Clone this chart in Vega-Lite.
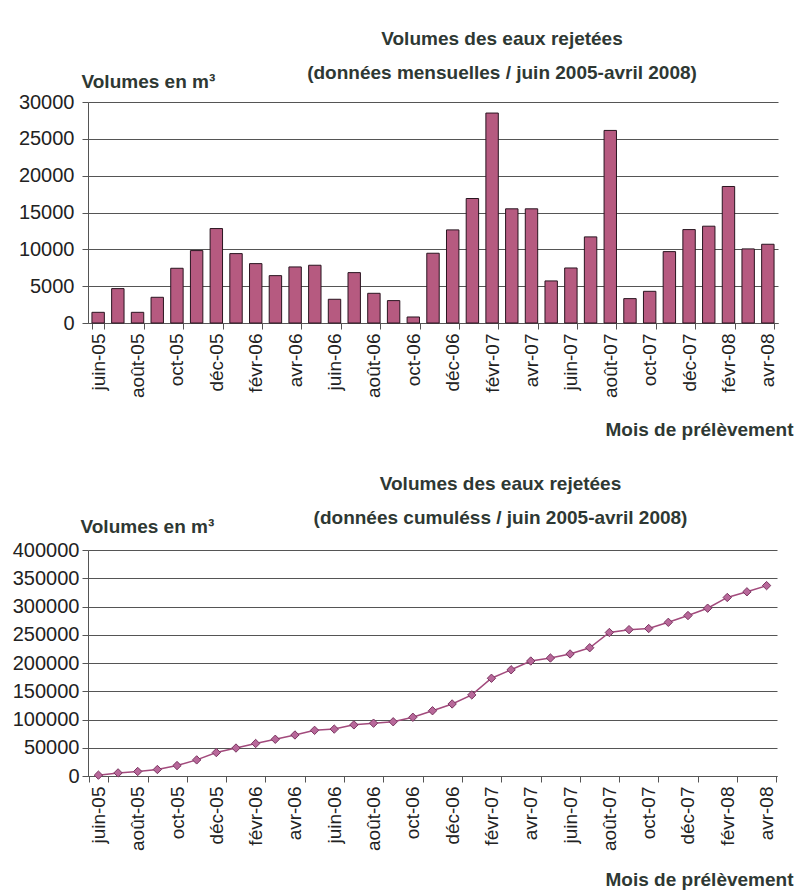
{
  "$schema": "https://vega.github.io/schema/vega-lite/v6.json",
  "background": "white",
  "padding": {"left": 12, "top": 30, "right": 3, "bottom": 5},
  "spacing": 36,
  "config": {
    "font": "Liberation Sans",
    "view": {"stroke": null},
    "axis": {
      "labelFont": "Liberation Sans",
      "titleFont": "Liberation Sans",
      "labelColor": "#222222",
      "titleColor": "#2e3833",
      "domainColor": "#555555",
      "tickColor": "#555555",
      "gridColor": "#555555",
      "gridOpacity": 1,
      "titleFontWeight": "bold",
      "titleFontSize": 19
    },
    "title": {"font": "Liberation Sans", "fontSize": 19, "fontWeight": "bold", "color": "#2e3833", "lineHeight": 34}
  },
  "datasets": {
    "mois": [
      {"mois": "juin-05", "volume": 1450, "cumul": 1500},
      {"mois": "juil-05", "volume": 4670, "cumul": 5500},
      {"mois": "août-05", "volume": 1450, "cumul": 8000},
      {"mois": "sept-05", "volume": 3490, "cumul": 11500},
      {"mois": "oct-05", "volume": 7430, "cumul": 18500},
      {"mois": "nov-05", "volume": 9830, "cumul": 28500},
      {"mois": "déc-05", "volume": 12820, "cumul": 41500},
      {"mois": "janv-06", "volume": 9420, "cumul": 49500},
      {"mois": "févr-06", "volume": 8060, "cumul": 57500},
      {"mois": "mars-06", "volume": 6430, "cumul": 65000},
      {"mois": "avr-06", "volume": 7610, "cumul": 72600},
      {"mois": "mai-06", "volume": 7840, "cumul": 80800},
      {"mois": "juin-06", "volume": 3220, "cumul": 83000},
      {"mois": "juil-06", "volume": 6840, "cumul": 90500},
      {"mois": "août-06", "volume": 4030, "cumul": 93500},
      {"mois": "sept-06", "volume": 3040, "cumul": 96000},
      {"mois": "oct-06", "volume": 815, "cumul": 104000},
      {"mois": "nov-06", "volume": 9470, "cumul": 115500},
      {"mois": "déc-06", "volume": 12640, "cumul": 127500},
      {"mois": "janv-07", "volume": 16900, "cumul": 143500},
      {"mois": "févr-07", "volume": 28500, "cumul": 173000},
      {"mois": "mars-07", "volume": 15500, "cumul": 188000},
      {"mois": "avr-07", "volume": 15500, "cumul": 203500},
      {"mois": "mai-07", "volume": 5710, "cumul": 208800},
      {"mois": "juin-07", "volume": 7470, "cumul": 216000},
      {"mois": "juil-07", "volume": 11690, "cumul": 227000},
      {"mois": "août-07", "volume": 26140, "cumul": 254000},
      {"mois": "sept-07", "volume": 3310, "cumul": 259000},
      {"mois": "oct-07", "volume": 4300, "cumul": 261000},
      {"mois": "nov-07", "volume": 9690, "cumul": 272000},
      {"mois": "déc-07", "volume": 12680, "cumul": 284000},
      {"mois": "janv-08", "volume": 13140, "cumul": 297000},
      {"mois": "févr-08", "volume": 18530, "cumul": 316000},
      {"mois": "mars-08", "volume": 10060, "cumul": 326000},
      {"mois": "avr-08", "volume": 10690, "cumul": 337000}
    ]
  },
  "vconcat": [
    {
      "data": {"name": "mois"},
      "width": 690,
      "height": 221,
      "title": {"text": ["Volumes des eaux rejetées", "(données mensuelles / juin 2005-avril 2008)"], "dx": 69, "offset": -11},
      "mark": {"type": "bar", "fill": "#b65a80", "stroke": "#2a1520", "strokeWidth": 1},
      "encoding": {
        "x": {
          "field": "mois", "type": "ordinal", "sort": null,
          "scale": {"paddingInner": 0.37, "paddingOuter": 0.2},
          "axis": {
            "values": ["juin-05","août-05","oct-05","déc-05","févr-06","avr-06","juin-06","août-06","oct-06","déc-06","févr-07","avr-07","juin-07","août-07","oct-07","déc-07","févr-08","avr-08"],
            "labelAngle": -90, "labelFontSize": 19, "labelPadding": 4,
            "tickBand": "extent", "tickSize": 6,
            "title": "Mois de prélèvement",
            "titleAlign": "right", "titleAnchor": "end", "titleX": 705, "titleY": 106, "titleBaseline": "middle"
          }
        },
        "y": {
          "field": "volume", "type": "quantitative",
          "scale": {"domain": [0, 30000]},
          "axis": {
            "values": [0, 5000, 10000, 15000, 20000, 25000, 30000],
            "format": "d", "labelFontSize": 20, "tickSize": 6, "labelPadding": 8,
            "title": "Volumes en m³", "titleAngle": 0, "titleAlign": "left", "titleBaseline": "middle",
            "titleX": -7, "titleY": -21
          }
        }
      }
    },
    {
      "data": {"name": "mois"},
      "width": 689,
      "height": 226,
      "title": {"text": ["Volumes des eaux rejetées", "(données cumuléss / juin 2005-avril 2008)"], "dx": 68, "offset": -11},
      "mark": {"type": "line", "color": "#a24a7c", "strokeWidth": 1.5, "point": {"shape": "diamond", "size": 70, "fill": "#b8689a", "stroke": "#7a3560", "strokeWidth": 1, "filled": true}},
      "encoding": {
        "x": {
          "field": "mois", "type": "ordinal", "sort": null,
          "scale": {"type": "band", "paddingInner": 0, "paddingOuter": 0.03},
          "axis": {
            "values": ["juin-05","août-05","oct-05","déc-05","févr-06","avr-06","juin-06","août-06","oct-06","déc-06","févr-07","avr-07","juin-07","août-07","oct-07","déc-07","févr-08","avr-08"],
            "labelAngle": -90, "labelFontSize": 19, "labelPadding": 4,
            "tickBand": "extent", "tickSize": 6,
            "title": "Mois de prélèvement",
            "titleAlign": "right", "titleAnchor": "end", "titleX": 705, "titleY": 103, "titleBaseline": "middle"
          }
        },
        "y": {
          "field": "cumul", "type": "quantitative",
          "scale": {"domain": [0, 400000]},
          "axis": {
            "values": [0, 50000, 100000, 150000, 200000, 250000, 300000, 350000, 400000],
            "format": "d", "labelFontSize": 20, "tickSize": 6, "labelPadding": 3,
            "title": "Volumes en m³", "titleAngle": 0, "titleAlign": "left", "titleBaseline": "middle",
            "titleX": -8, "titleY": -24
          }
        }
      }
    }
  ]
}
